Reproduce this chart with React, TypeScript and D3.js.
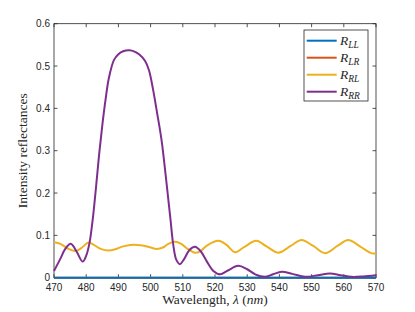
import React from "react";
import * as d3 from "d3";

const wavelengthRR = [470, 472, 473.5, 475.2, 477, 478.9, 480, 481, 482, 483, 484, 485, 486, 487, 488.6, 490, 491.5, 493.4, 495, 496.5, 498.3, 499.5, 500.8, 502, 503.4, 505, 506.2, 507, 508, 509.1, 510.5, 512, 513.8, 515.5, 517.5, 519.5, 521.6, 524, 527.2, 530, 532.5, 535.5, 538, 540.7, 544, 548, 552, 555.7, 559, 562.4, 566, 570];
const valuesRR = [0.016, 0.045, 0.068, 0.08, 0.062, 0.038, 0.052, 0.081, 0.136, 0.21, 0.29, 0.36, 0.42, 0.47, 0.514, 0.528, 0.535, 0.537, 0.534, 0.527, 0.512, 0.49, 0.443, 0.39, 0.325, 0.22, 0.136, 0.08, 0.042, 0.032, 0.045, 0.065, 0.073, 0.063, 0.038, 0.016, 0.008, 0.017, 0.028, 0.02, 0.008, 0.002, 0.008, 0.014, 0.009, 0.002, 0.006, 0.01, 0.006, 0.002, 0.003, 0.006];

const wavelengthRL = [470, 472, 474.5, 476.7, 478.5, 480.7, 482.5, 484.5, 486.9, 489, 491.5, 494.6, 497.5, 499.8, 501.9, 504, 505.5, 507.6, 509.5, 511.5, 513.8, 515.5, 517.5, 521, 523.5, 526.2, 529, 532.8, 536, 539.7, 543.5, 546.9, 550.5, 554.2, 558, 561.4, 565, 568.5, 570];
const valuesRL = [0.084, 0.08, 0.068, 0.063, 0.07, 0.083, 0.077, 0.068, 0.064, 0.067, 0.074, 0.078, 0.076, 0.072, 0.068, 0.072, 0.08, 0.085, 0.08, 0.068, 0.059, 0.063, 0.076, 0.087, 0.078, 0.06, 0.072, 0.087, 0.074, 0.059, 0.075, 0.089, 0.075, 0.058, 0.075, 0.089, 0.074, 0.058, 0.058];

const wavelengthFlat = [470, 570];
const valuesLL = [0, 0];
const valuesLR = [0, 0];

const xTicks = [470, 480, 490, 500, 510, 520, 530, 540, 550, 560, 570];
const yTicks = [0, 0.1, 0.2, 0.3, 0.4, 0.5, 0.6];

const seriesNames = ["LL", "LR", "RL", "RR"];
const seriesColors = ["#0072BD", "#D95319", "#EDB120", "#7E2F8E"];

const W = 415, H = 312;
const L = 54, R = 376, T = 23.7, B = 277.7;
const axisColor = "#262626";

export default function App() {
  const x = d3.scaleLinear().domain([470, 570]).range([L, R]);
  const y = d3.scaleLinear().domain([0, 0.6]).range([B, T]);
  const line = d3.line<[number, number]>().x(d => x(d[0])).y(d => y(d[1])).curve(d3.curveCatmullRom.alpha(0.5));
  const zip = (a: number[], b: number[]) => a.map((v, i) => [v, b[i]] as [number, number]);

  const series = [
    { name: "LR", color: seriesColors[1], d: zip(wavelengthFlat, valuesLR) },
    { name: "LL", color: seriesColors[0], d: zip(wavelengthFlat, valuesLL) },
    { name: "RL", color: seriesColors[2], d: zip(wavelengthRL, valuesRL) },
    { name: "RR", color: seriesColors[3], d: zip(wavelengthRR, valuesRR) },
  ];

  const tickFont = { fontFamily: "Liberation Sans, Arial, sans-serif", fontSize: 10, fill: axisColor };
  const serif = "Liberation Serif, Times New Roman, serif";

  return (
    <svg width={W} height={H} style={{ position: "absolute", left: 0, top: 0, background: "#fff" }}>
      <rect x={0} y={0} width={W} height={H} fill="#fff" />
      <defs>
        <clipPath id="plotclip">
          <rect x={L - 2} y={T} width={R - L + 4} height={B - T + 3} />
        </clipPath>
      </defs>
      {/* frame */}
      <rect x={L} y={T} width={R - L} height={B - T} fill="none" stroke={axisColor} strokeWidth={0.8} />
      {/* ticks */}
      {xTicks.map(t => (
        <g key={"xt" + t}>
          <line x1={x(t)} x2={x(t)} y1={B} y2={B - 3.5} stroke={axisColor} strokeWidth={0.8} />
          <line x1={x(t)} x2={x(t)} y1={T} y2={T + 3.5} stroke={axisColor} strokeWidth={0.8} />
          <text x={x(t)} y={B + 13} textAnchor="middle" {...tickFont}>{t}</text>
        </g>
      ))}
      {yTicks.map(t => (
        <g key={"yt" + t}>
          <line x1={L} x2={L + 3.5} y1={y(t)} y2={y(t)} stroke={axisColor} strokeWidth={0.8} />
          <line x1={R} x2={R - 3.5} y1={y(t)} y2={y(t)} stroke={axisColor} strokeWidth={0.8} />
          <text x={L - 4} y={y(t) + 3.5} textAnchor="end" {...tickFont}>{t === 0 ? "0" : t.toFixed(1)}</text>
        </g>
      ))}
      {/* lines */}
      <g clipPath="url(#plotclip)">
        {series.map(s => (
          <path key={s.name} d={line(s.d) || ""} fill="none" stroke={s.color} strokeWidth={2} strokeLinejoin="round" />
        ))}
      </g>
      {/* axis labels */}
      <text x={(L + R) / 2} y={304} textAnchor="middle" fontFamily={serif} fontSize={13.5} fill={axisColor}>
        Wavelength, <tspan fontStyle="italic">λ</tspan> (<tspan fontStyle="italic">nm</tspan>)
      </text>
      <text transform={`translate(27,${(T + B) / 2}) rotate(-90)`} textAnchor="middle" fontFamily={serif} fontSize={13.5} fill={axisColor}>
        Intensity reflectances
      </text>
      {/* legend */}
      <rect x={304} y={30} width={64} height={71} fill="#fff" stroke={axisColor} strokeWidth={0.8} />
      {seriesNames.map((n, i) => {
        const ly = 40.7 + i * 17;
        return (
          <g key={"lg" + n}>
            <line x1={306.7} x2={336.7} y1={ly} y2={ly} stroke={seriesColors[i]} strokeWidth={2} />
            <text x={340} y={ly + 4} fontFamily={serif} fontSize={13.5} fontStyle="italic" fill={axisColor}>
              R<tspan dy={3} fontSize={9.5}>{n}</tspan>
            </text>
          </g>
        );
      })}
    </svg>
  );
}
